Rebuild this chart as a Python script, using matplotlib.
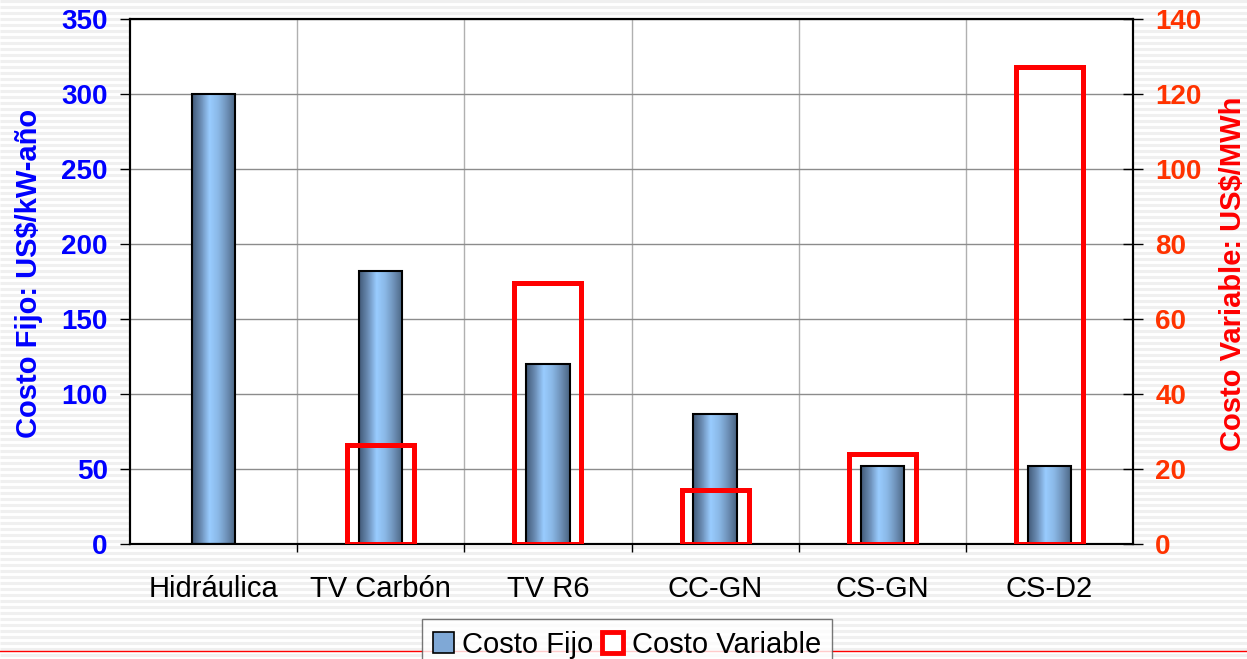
import numpy as np
import matplotlib
matplotlib.use("Agg")
import matplotlib.pyplot as plt
from matplotlib.colors import LinearSegmentedColormap
from matplotlib.patches import Rectangle, Patch
from matplotlib.lines import Line2D

categories = ["Hidráulica", "TV Carbón", "TV R6", "CC-GN", "CS-GN", "CS-D2"]
costo_fijo = [300, 182, 120, 87, 52, 52]             # US$/kW-año (eje izq.)
costo_variable = [0, 26.5, 69.5, 14.3, 23.9, 127.3]  # US$/MWh (eje der.), Hidráulica sin caja
left_ticks = [0, 50, 100, 150, 200, 250, 300, 350]
right_ticks = [0, 20, 40, 60, 80, 100, 120, 140]

BLUE_TXT = "#0000ff"
RED_TXT = "#ff3300"
RED_LBL = "#ff0000"
W, H = 1247, 659

plt.rcParams.update({"font.family": "Liberation Sans"})

cyl = LinearSegmentedColormap.from_list(
    "cyl", ["#425a78", "#6b8db5", "#99ccff", "#8ab8e6", "#6e91b8", "#4a6482"])

fig = plt.figure(figsize=(W / 100, H / 100), dpi=100)

# fondo rayado de la diapositiva
bg = fig.add_axes([0, 0, 1, 1], zorder=-10)
bg.set_xlim(0, W); bg.set_ylim(H, 0); bg.axis("off")
bg.hlines(np.arange(1, H, 6), 0, W, color="#f0f0f0", lw=2.2)
fig.add_artist(Line2D([0, 1], [1 - 651 / H] * 2, color="red", lw=1))

ax = fig.add_axes([130 / W, 1 - 544 / H, 1003 / W, 525 / H])
ax.set_facecolor("white")
x = np.arange(len(categories))
bw = 0.26
grad = np.linspace(0, 1, 64).reshape(1, -1)
for xi, v in zip(x, costo_fijo):
    ax.imshow(grad, cmap=cyl, aspect="auto", extent=(xi - bw / 2, xi + bw / 2, 0, v), zorder=2)
    ax.add_patch(Rectangle((xi - bw / 2, 0), bw, v, fill=False, ec="black", lw=1.5, zorder=3))
ax.set_xlim(-0.5, len(categories) - 0.5)
ax.set_ylim(0, 350)
ax.set_yticks(left_ticks)
ax.set_xticks(x)
ax.set_xticklabels(categories, fontsize=21)
ax.set_xticks(np.arange(0.5, len(categories) - 0.5, 1), minor=True)
ax.tick_params(axis="x", which="major", length=0, pad=22)
ax.tick_params(axis="x", which="minor", length=6, direction="out", width=1)
ax.tick_params(axis="y", length=7, width=1, pad=9, labelsize=20, labelcolor=BLUE_TXT)
for t in ax.get_yticklabels():
    t.set_fontweight("bold")
ax.grid(axis="y", color="#8c8c8c", lw=1)
ax.grid(axis="x", which="minor", color="#b0b0b0", lw=1)
ax.set_axisbelow(True)
for s in ax.spines.values():
    s.set_color("black"); s.set_linewidth(1.5)
ax.set_ylabel("Costo Fijo: US$/kW-año", color=BLUE_TXT, fontsize=21, fontweight="bold")
ax.yaxis.set_label_coords(-0.0867, 0.515)

ax2 = ax.twinx()
cv = np.array(costo_variable, dtype=float)
has = cv > 0
ax2.bar(x[has], cv[has], 0.40, fill=False, edgecolor="red", linewidth=3.6, zorder=4)
ax2.set_ylim(0, 140)
ax2.set_yticks(right_ticks)
ax2.tick_params(axis="y", direction="inout", length=14, width=1, pad=9,
                labelsize=20, labelcolor=RED_TXT)
for t in ax2.get_yticklabels():
    t.set_fontweight("bold")
for s in ax2.spines.values():
    s.set_color("black"); s.set_linewidth(1.5)
ax2.set_ylabel("Costo Variable: US$/MWh", color=RED_LBL, fontsize=21, fontweight="bold")
ax2.yaxis.set_label_coords(1.0855, 0.515)

handles = [Patch(facecolor="#7fa8d6", edgecolor="black", lw=1.2, label="Costo Fijo"),
           Patch(facecolor="white", edgecolor="red", lw=3.5, label="Costo Variable")]
leg = fig.legend(handles=handles, loc="upper center", bbox_to_anchor=(627 / W, 1 - 619 / H),
                 ncol=2, fontsize=21, frameon=True, fancybox=False, handlelength=0.7,
                 handleheight=0.7, handletextpad=0.3, columnspacing=0.3,
                 borderpad=0.4, borderaxespad=0)
leg.get_frame().set_edgecolor("#555555")
leg.get_frame().set_linewidth(1)

fig.savefig("out.png", dpi=100, facecolor="white")
